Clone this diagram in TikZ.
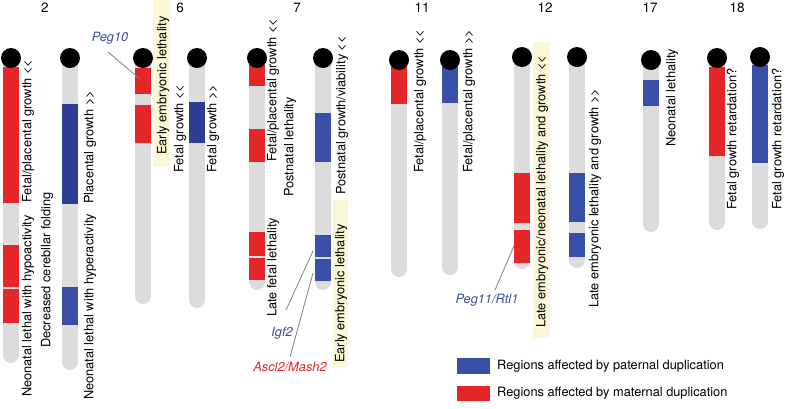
\documentclass[tikz,border=0pt]{standalone}
\usepackage{fontspec}
\setmainfont{TeX Gyre Heros}
\definecolor{matred}{HTML}{E52628}
\definecolor{patblue}{HTML}{3A50A6}
\definecolor{darkblue}{HTML}{2D3C94}
\definecolor{chrgray}{HTML}{DCDCDC}
\definecolor{hilite}{HTML}{FAF8D6}
\definecolor{leadgray}{HTML}{808080}

\begin{document}
\begin{tikzpicture}[x=1pt, y=-1pt,
	chrom/.style={line width=16pt, line cap=round, draw=chrgray},
	cen node/.style={circle, fill=black, minimum size=20pt, inner sep=0pt},
	pat/.style={fill=patblue}, dpat/.style={fill=darkblue}, mat/.style={fill=matred},
	pheno/.style={rotate=90, anchor=west, inner sep=0pt, font=\fontsize{12.8}{15}\selectfont},
	gene/.style={inner sep=0pt, font=\fontsize{12.8}{15}\selectfont\itshape},
	num/.style={font=\fontsize{13.5}{16}\selectfont},
	leader/.style={draw=leadgray, line width=0.8pt},
	hbox/.style={fill=hilite}]

	\useasboundingbox (0,0) rectangle (786,408);

	% highlighted phenotypes
	\fill[hbox] (153,0) rectangle (170,167);
	\fill[hbox] (333,200) rectangle (348,368);
	\fill[hbox] (533,42) rectangle (550,338);

	% chromosome 2
	\draw[chrom] (11,58) -- (11,355);
	\fill[mat] (3,67) rectangle (19,203);
	\fill[mat] (3,245) rectangle (19,287);
	\fill[mat] (3,289) rectangle (19,323);
	\node[cen node] (c2a) at (11,58) {};
	\draw[chrom] (70,58) -- (70,362);
	\fill[dpat] (62,104) rectangle (78,204);
	\fill[pat] (62,287) rectangle (78,325);
	\node[cen node] (c2b) at (70,58) {};

	% chromosome 6
	\draw[chrom] (143,58) -- (143,296);
	\fill[mat] (135,68) rectangle (151,94);
	\fill[mat] (135,105) rectangle (151,143);
	\node[cen node] (c6a) at (143,58) {};
	\draw[chrom] (197,58) -- (197,300);
	\fill[dpat] (189,102) rectangle (205,143);
	\node[cen node] (c6b) at (197,58) {};

	% chromosome 7
	\draw[chrom] (257,58) -- (257,282);
	\fill[mat] (249,65) rectangle (265,86);
	\fill[mat] (249,129) rectangle (265,162);
	\fill[mat] (249,232) rectangle (265,256);
	\fill[mat] (249,258) rectangle (265,280);
	\node[cen node] (c7a) at (257,58) {};
	\draw[chrom] (323,58) -- (323,282);
	\fill[pat] (315,113) rectangle (331,162);
	\fill[pat] (315,235) rectangle (331,257);
	\fill[pat] (315,259) rectangle (331,281);
	\node[cen node] (c7b) at (323,58) {};

	% chromosome 11
	\draw[chrom] (399,60) -- (399,269);
	\fill[mat] (391,65) rectangle (407,104);
	\node[cen node] (c11a) at (399,60) {};
	\draw[chrom] (450,60) -- (450,267);
	\fill[pat] (442,65) rectangle (458,103);
	\node[cen node] (c11b) at (450,60) {};

	% chromosome 12
	\draw[chrom] (522,57) -- (522,261);
	\fill[mat] (514,173) rectangle (530,223);
	\fill[mat] (514,230) rectangle (530,263);
	\node[cen node] (c12a) at (522,57) {};
	\draw[chrom] (577,57) -- (577,260);
	\fill[pat] (569,173) rectangle (585,222);
	\fill[pat] (569,233) rectangle (585,257);
	\node[cen node] (c12b) at (577,57) {};

	% chromosomes 17 and 18
	\draw[chrom] (651,60) -- (651,224);
	\fill[pat] (643,80) rectangle (659,106);
	\node[cen node] (c17) at (651,60) {};
	\draw[chrom] (717,58) -- (717,222);
	\fill[mat] (709,67) rectangle (725,156);
	\node[cen node] (c18a) at (717,58) {};
	\draw[chrom] (760,57) -- (760,221);
	\fill[pat] (752,65) rectangle (768,163);
	\node[cen node] (c18b) at (760,57) {};

	% chromosome numbers
	\node[num] (n2) at (45,8) {2};
	\node[num] (n6) at (180,8) {6};
	\node[num] (n7) at (297,8) {7};
	\node[num] (n11) at (422,8) {11};
	\node[num] (n12) at (545,8) {12};
	\node[num] (n17) at (650,8) {17};
	\node[num] (n18) at (737,8) {18};

	% phenotypes
	\node[pheno] (p2a) at (28,203) {Fetal/placental growth <\kern0pt<};
	\node[pheno] (p2b) at (28,397) {Neonatal lethal with hypoactivity};
	\node[pheno] (p2c) at (47,348) {Decreased cerebllar folding};
	\node[pheno] (p2d) at (90,204) {Placental growth >\kern0pt>};
	\node[pheno] (p2e) at (90,400) {Neonatal lethal with hyperactivity};
	\node[pheno] (p6a) at (163,155) {Early embryonic lethality};
	\node[pheno] (p6b) at (180,173) {Fetal growth <\kern0pt<};
	\node[pheno] (p6c) at (213,173) {Fetal growth >\kern0pt>};
	\node[pheno] (p7a) at (273,162) {Fetal/placental growth <\kern0pt<};
	\node[pheno] (p7b) at (290,197) {Postnatal lethality};
	\node[pheno] (p7c) at (273,317) {Late fetal lethality};
	\node[pheno] (p7d) at (342,195) {Postnatal growth/viability <\kern0pt<};
	\node[pheno] (p7e) at (341,363) {Early embryonic lethality};
	\node[pheno] (p11a) at (420,173) {Fetal/placental growth <\kern0pt<};
	\node[pheno] (p11b) at (469,173) {Fetal/placental growth >\kern0pt>};
	\node[pheno] (p12a) at (542,328) {Late embryonic/neonatal lethality and growth <\kern0pt<};
	\node[pheno] (p12b) at (595,308) {Late embryonic lethality and growth >\kern0pt>};
	\node[pheno] (p17) at (672,147) {Neonatal lethality};
	\node[pheno] (p18a) at (733,210) {Fetal growth retardation?};
	\node[pheno] (p18b) at (778,210) {Fetal growth retardation?};

	% genes
	\node[gene, text=patblue] (peg10) at (110,38) {Peg10};
	\node[gene, text=patblue] (igf2) at (282,333) {Igf2};
	\node[gene, text=matred] (ascl2) at (290,367) {Ascl2/Mash2};
	\node[gene, text=patblue] (peg11) at (487,300) {Peg11/Rtl1};
	\coordinate (peg10a) at (108,52);
	\coordinate (peg10b) at (140,79);
	\coordinate (igf2a) at (286,310);
	\coordinate (igf2b) at (313,251);
	\coordinate (ascl2a) at (290,357);
	\coordinate (ascl2b) at (313,273);
	\coordinate (peg11a) at (495,290);
	\coordinate (peg11b) at (514,246);
	\draw[leader] (peg10a) -- (peg10b);
	\draw[leader] (igf2a) -- (igf2b);
	\draw[leader] (ascl2a) -- (ascl2b);
	\draw[leader] (peg11a) -- (peg11b);

	% legend
	\node[pat, minimum width=33pt, minimum height=16pt, inner sep=0pt] (legpat) at (473.5,366) {};
	\node[mat, minimum width=33pt, minimum height=15pt, inner sep=0pt] (legmat) at (473.5,393.5) {};
	\node[anchor=west, inner sep=0pt, font=\fontsize{12.8}{15}\selectfont] (txtpat) at (497,366) {Regions affected by paternal duplication};
	\node[anchor=west, inner sep=0pt, font=\fontsize{12.8}{15}\selectfont] (txtmat) at (497,393) {Regions affected by maternal duplication};
\end{tikzpicture}
\end{document}
